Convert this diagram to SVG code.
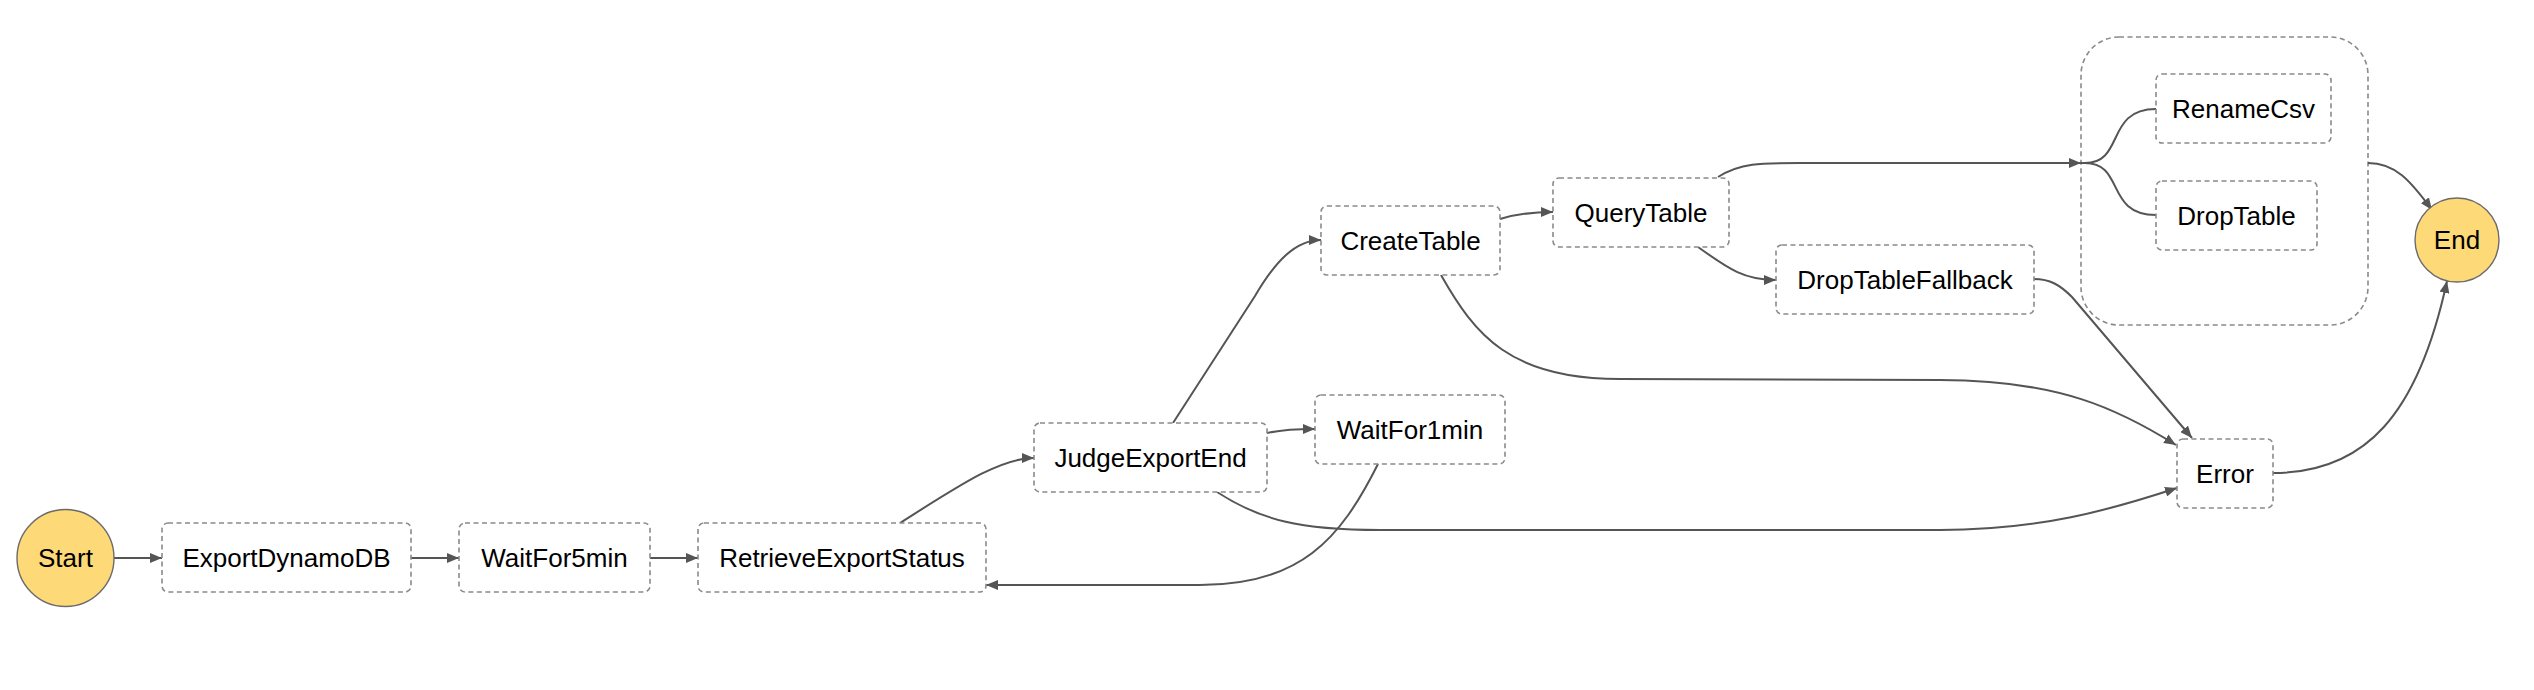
<svg xmlns="http://www.w3.org/2000/svg" width="2534" height="690" viewBox="0 0 2534 690">
<style>
  .box{fill:#fff;stroke:#8a8a8a;stroke-width:1.6;stroke-dasharray:5,3.5}
  .group{fill:none;stroke:#8a8a8a;stroke-width:1.6;stroke-dasharray:5,3.5}
  .term{fill:#fed978;stroke:#6b6b6b;stroke-width:1.4}
  .lbl{font-family:"Liberation Sans",Arial,sans-serif;font-size:26px;fill:#000;text-anchor:middle}
  .edge{fill:none;stroke:#555;stroke-width:2}
</style>
<defs>
  <marker id="arr" viewBox="0 0 12 10" refX="12" refY="5" markerWidth="12" markerHeight="10" markerUnits="userSpaceOnUse" orient="auto">
    <path d="M0,0 L12,5 L0,10 Z" fill="#555"/>
  </marker>
</defs>
<rect width="2534" height="690" fill="#fff"/>

<g id="node-parallel">
  <rect class="group" x="2081" y="37" width="287" height="288" rx="38"/>
</g>

<g id="edges">
  <path class="edge" marker-end="url(#arr)" d="M114,558 L162,558"/>
  <path class="edge" marker-end="url(#arr)" d="M411,558 L459,558"/>
  <path class="edge" marker-end="url(#arr)" d="M650,558 L698,558"/>
  <path class="edge" marker-end="url(#arr)" d="M900,523 C960,485 1000,458 1034,458"/>
  <path class="edge" marker-end="url(#arr)" d="M1267,433 C1285,429 1300,429 1315,429"/>
  <path class="edge" marker-end="url(#arr)" d="M1173,423 L1255,296 C1275,262 1295,240 1321,240"/>
  <path class="edge" marker-end="url(#arr)" d="M1378,464 C1340,540 1300,585 1200,585 L986,585"/>
  <path class="edge" marker-end="url(#arr)" d="M1217,492 C1260,520 1300,530 1380,530 L1940,530 C2040,530 2110,510 2177,488"/>
  <path class="edge" marker-end="url(#arr)" d="M1441,275 C1475,335 1510,379 1620,379 L1940,380 C2060,380 2120,410 2176,445"/>
  <path class="edge" marker-end="url(#arr)" d="M1500,219 C1520,213 1535,212 1553,212"/>
  <path class="edge" marker-end="url(#arr)" d="M1698,247 C1730,270 1745,280 1776,280"/>
  <path class="edge" marker-end="url(#arr)" d="M1718,177 C1740,163 1760,163 1800,163 L2081,163"/>
  <path class="edge" d="M2081,163 L2085,163 C2125,163 2105,109 2156,109"/>
  <path class="edge" d="M2085,163 C2125,163 2105,215 2156,215"/>
  <path class="edge" marker-end="url(#arr)" d="M2034,279 C2050,279 2060,285 2072,297 L2192,438"/>
  <path class="edge" marker-end="url(#arr)" d="M2368,163 C2395,163 2410,180 2432,210"/>
  <path class="edge" marker-end="url(#arr)" d="M2273,473 C2365,473 2418,415 2447,281"/>
</g>

<g id="node-start">
  <circle class="term" cx="65.5" cy="558" r="48.5"/>
  <text class="lbl" x="65.5" y="558" dy="0.35em">Start</text>
</g>
<g id="node-ExportDynamoDB">
  <rect class="box" x="162" y="523" width="249" height="69" rx="6"/>
  <text class="lbl" x="286.5" y="557.5" dy="0.35em">ExportDynamoDB</text>
</g>
<g id="node-WaitFor5min">
  <rect class="box" x="459" y="523" width="191" height="69" rx="6"/>
  <text class="lbl" x="554.5" y="557.5" dy="0.35em">WaitFor5min</text>
</g>
<g id="node-RetrieveExportStatus">
  <rect class="box" x="698" y="523" width="288" height="69" rx="6"/>
  <text class="lbl" x="842" y="557.5" dy="0.35em">RetrieveExportStatus</text>
</g>
<g id="node-JudgeExportEnd">
  <rect class="box" x="1034" y="423" width="233" height="69" rx="6"/>
  <text class="lbl" x="1150.5" y="457.5" dy="0.35em">JudgeExportEnd</text>
</g>
<g id="node-WaitFor1min">
  <rect class="box" x="1315" y="395" width="190" height="69" rx="6"/>
  <text class="lbl" x="1410" y="429.5" dy="0.35em">WaitFor1min</text>
</g>
<g id="node-CreateTable">
  <rect class="box" x="1321" y="206" width="179" height="69" rx="6"/>
  <text class="lbl" x="1410.5" y="240.5" dy="0.35em">CreateTable</text>
</g>
<g id="node-QueryTable">
  <rect class="box" x="1553" y="178" width="176" height="69" rx="6"/>
  <text class="lbl" x="1641" y="212.5" dy="0.35em">QueryTable</text>
</g>
<g id="node-DropTableFallback">
  <rect class="box" x="1776" y="245" width="258" height="69" rx="6"/>
  <text class="lbl" x="1905" y="279.5" dy="0.35em">DropTableFallback</text>
</g>
<g id="node-RenameCsv">
  <rect class="box" x="2156" y="74" width="175" height="69" rx="6"/>
  <text class="lbl" x="2243.5" y="108.5" dy="0.35em">RenameCsv</text>
</g>
<g id="node-DropTable">
  <rect class="box" x="2156" y="181" width="161" height="69" rx="6"/>
  <text class="lbl" x="2236.5" y="215.5" dy="0.35em">DropTable</text>
</g>
<g id="node-Error">
  <rect class="box" x="2177" y="439" width="96" height="69" rx="6"/>
  <text class="lbl" x="2225" y="473.5" dy="0.35em">Error</text>
</g>
<g id="node-end">
  <circle class="term" cx="2457" cy="240" r="42"/>
  <text class="lbl" x="2457" y="240" dy="0.35em">End</text>
</g>
</svg>
